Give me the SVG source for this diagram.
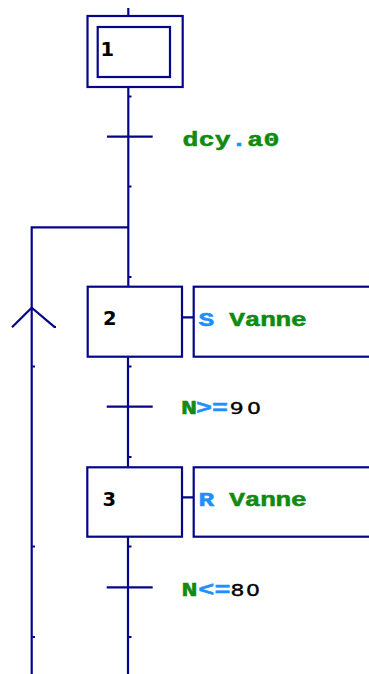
<svg xmlns="http://www.w3.org/2000/svg" width="369" height="674" viewBox="0 0 369 674">
<style>
.ln{stroke:#05058a;stroke-width:2.2;fill:none}
.tk{fill:#05058a}
.num{font-family:"DejaVu Sans",sans-serif;font-weight:bold;font-size:19.5px;fill:#000}
.mono{font-family:"Liberation Mono","Courier New",monospace;font-weight:bold;font-size:19.5px;stroke-width:0.5}
.g{fill:#108a10;stroke:#108a10}
.b{fill:#1e8fff;stroke:#1e8fff}
.k{font-family:"DejaVu Sans",sans-serif;font-weight:normal;font-size:16px;fill:#000;stroke:#000;stroke-width:0.35}
</style>
<rect width="369" height="674" fill="#fff"/>
<g id="connectors">
<path class="ln" d="M128.3 8V16M128.3 87V287M128 357V467M128 537V674"/>
<path class="ln" d="M31.7 674V227.3H128"/>
<path class="ln" d="M12 327.3L31.7 307.7L55 327.3"/>
<path class="ln" d="M107 136.7H152.7M106.7 406.7H152.7M106.7 587.3H152.7"/>
<path class="ln" d="M182 317.3H193.7M182 497.3H193.7"/>
<g class="tk">
<rect x="129" y="95.5" width="2.5" height="2"/>
<rect x="129" y="185.5" width="2.5" height="2"/>
<rect x="129" y="276" width="2.5" height="2"/>
<rect x="129" y="365.5" width="2.5" height="2"/>
<rect x="129" y="456" width="2.5" height="2"/>
<rect x="129" y="545.5" width="2.5" height="2"/>
<rect x="129" y="636" width="2.5" height="2"/>
<rect x="32.5" y="365.5" width="2.5" height="2"/>
<rect x="32.5" y="545.5" width="2.5" height="2"/>
<rect x="32.5" y="636" width="2.5" height="2"/>
<rect x="54" y="326" width="2" height="2"/>
</g>
</g>
<g id="step1">
<rect class="ln" x="87.5" y="16" width="95.2" height="71"/>
<rect class="ln" x="97.7" y="27" width="72.3" height="50"/>
<text class="num" x="100.5" y="56">1</text>
</g>
<g id="t1">
<text class="mono" transform="translate(182.5 146) scale(1.36 1)" letter-spacing="0.2"><tspan class="g">dcy</tspan><tspan class="b">.</tspan><tspan class="g">a0</tspan></text>
</g>
<g id="step2">
<rect class="ln" x="87.7" y="286.7" width="94.3" height="70"/>
<text class="num" x="103" y="324.5">2</text>
</g>
<g id="action2">
<rect class="ln" x="193.7" y="286.7" width="190" height="70"/>
<text class="mono" transform="translate(198.5 325.5) scale(1.34 1)" letter-spacing="-0.2"><tspan class="b">S</tspan><tspan class="g"> Vanne</tspan></text>
</g>
<g id="t2">
<text class="mono" text-anchor="middle" transform="translate(0 413.5) scale(1.37 1)"><tspan class="g" x="138">N</tspan><tspan class="b" x="149">&gt;</tspan><tspan class="b" x="160.6">=</tspan><tspan class="k" x="172.8">9</tspan><tspan class="k" x="185.4">0</tspan></text>
</g>
<g id="step3">
<rect class="ln" x="87.3" y="467.3" width="94.7" height="69.4"/>
<text class="num" x="102.5" y="506">3</text>
</g>
<g id="action3">
<rect class="ln" x="193.7" y="467.3" width="190" height="69.4"/>
<text class="mono" transform="translate(198.5 506) scale(1.34 1)" letter-spacing="-0.2"><tspan class="b">R</tspan><tspan class="g"> Vanne</tspan></text>
</g>
<g id="t3">
<text class="mono" text-anchor="middle" transform="translate(0 595.7) scale(1.37 1)"><tspan class="g" x="138.4">N</tspan><tspan class="b" x="150.5">&lt;</tspan><tspan class="b" x="162.4">=</tspan><tspan class="k" x="173.4">8</tspan><tspan class="k" x="184.7">0</tspan></text>
</g>
</svg>
